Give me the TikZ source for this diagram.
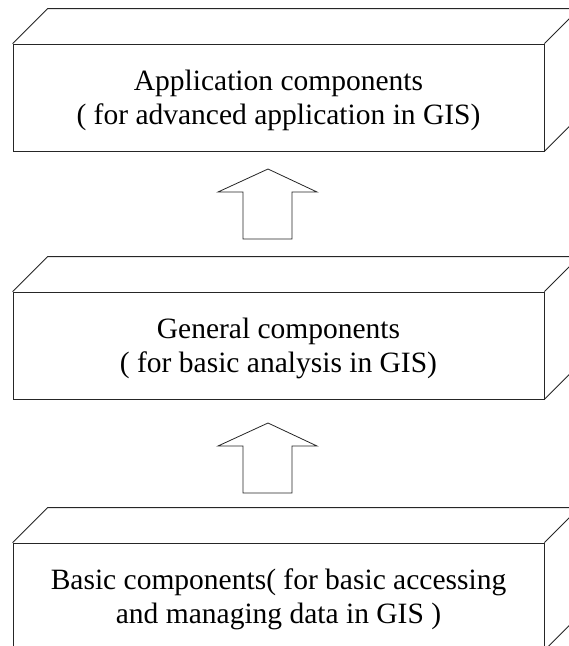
\documentclass[tikz,border=0pt]{standalone}
\usepackage{fontspec}
\setmainfont{Liberation Serif}
\begin{document}
\begin{tikzpicture}[x=1pt,y=-1pt,
  edge/.style={draw=black!85,line width=0.8pt,line join=miter},
  frontbox/.style={edge,rectangle,minimum width=531pt,minimum height=107pt,inner sep=0pt},
  boxtext/.style={inner sep=0pt,align=center,font=\fontsize{29.5}{34}\selectfont},
  uparrow/.style={edge,fill=white}]
\useasboundingbox (0,0) rectangle (569,646);
\clip (0,0) rectangle (569,646);
% boxes
\node[frontbox] (app) at (278.5,97.5) {};
\node[frontbox] (gen) at (278.5,345.5) {};
\node[frontbox] (bas) at (278.5,596.5) {};
\node[boxtext] (appt) at ([yshift=-2.5pt]app.center) {Application components\\( for advanced application in GIS)};
\node[boxtext] (gent) at ([yshift=-2.5pt]gen.center) {General components\\( for basic analysis in GIS)};
\node[boxtext] (bast) at ([yshift=-2.5pt]bas.center) {Basic components( for basic accessing\\and managing data in GIS )};
\foreach \b in {app,gen,bas}{
  \draw[edge] (\b.north west) -- ++(35,-35) -- ([shift={(35,-35)}]\b.north east) -- (\b.north east);
  \draw[edge] ([shift={(35,-35)}]\b.north east) -- ([shift={(35,-35)}]\b.south east) -- (\b.south east);
}
% block arrows
\coordinate (a1) at (268,169);
\coordinate (a2) at (268,423);
\foreach \a in {a1,a2}{
  \draw[uparrow] (\a) -- ++(49,23) -- ++(-25,0) -- ++(0,47) -- ++(-49,0) -- ++(0,-47) -- ++(-25,0) -- cycle;
}
\end{tikzpicture}
\end{document}
